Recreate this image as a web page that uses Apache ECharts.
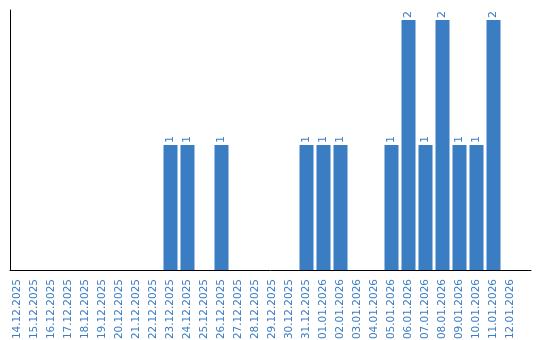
<!DOCTYPE html>
<html><head><meta charset="utf-8">
<script src="https://cdn.jsdelivr.net/npm/echarts@6/dist/echarts.min.js"></script>
<style>html,body{margin:0;padding:0;background:#fff}#c{width:540px;height:340px}</style>
</head><body><div id="c"></div>
<script>
var categories = ["14.12.2025","15.12.2025","16.12.2025","17.12.2025","18.12.2025","19.12.2025","20.12.2025","21.12.2025","22.12.2025","23.12.2025","24.12.2025","25.12.2025","26.12.2025","27.12.2025","28.12.2025","29.12.2025","30.12.2025","31.12.2025","01.01.2026","02.01.2026","03.01.2026","04.01.2026","05.01.2026","06.01.2026","07.01.2026","08.01.2026","09.01.2026","10.01.2026","11.01.2026","12.01.2026"];
var values = [0,0,0,0,0,0,0,0,0,1,1,0,1,0,0,0,0,1,1,1,0,0,1,2,1,2,1,1,2,0];
var yMax = 2;
var blue = '#3b7dc3';
var chart = echarts.init(document.getElementById('c'), null, {renderer:'canvas'});
chart.setOption({
  animation:false,
  grid:[{left:9, width:510, top:20, bottom:70, containLabel:false, outerBoundsMode:'none'},{left:10, right:9, top:10, bottom:70, outerBoundsMode:'none'}],
  xAxis:[{type:'category', data:categories, gridIndex:0,
    axisLine:{show:false}, axisTick:{show:false},
    axisLabel:{rotate:90, interval:0, color:blue, fontFamily:'DejaVu Sans', fontSize:10.5, margin:9}},
    {type:'value', gridIndex:1, min:0, max:1, axisLine:{show:true, onZero:false, lineStyle:{color:'#000', width:1}}, axisTick:{show:false}, axisLabel:{show:false}, splitLine:{show:false}}],
  yAxis:[{type:'value', gridIndex:0, min:0, max:yMax, axisLine:{show:false}, axisTick:{show:false}, axisLabel:{show:false}, splitLine:{show:false}},
    {type:'value', gridIndex:1, min:0, max:1, axisLine:{show:true, onZero:false, lineStyle:{color:'#000', width:1}}, axisTick:{show:false}, axisLabel:{show:false}, splitLine:{show:false}}],
  series:[{type:'bar', data:values, barWidth:14, itemStyle:{color:blue},
    label:{show:true, position:'top', rotate:90, align:'left', verticalAlign:'middle', distance:2, color:blue, fontFamily:'DejaVu Sans', fontSize:11,
      formatter:function(p){return p.value>0?String(p.value):'';}}}]
});
</script></body></html>
